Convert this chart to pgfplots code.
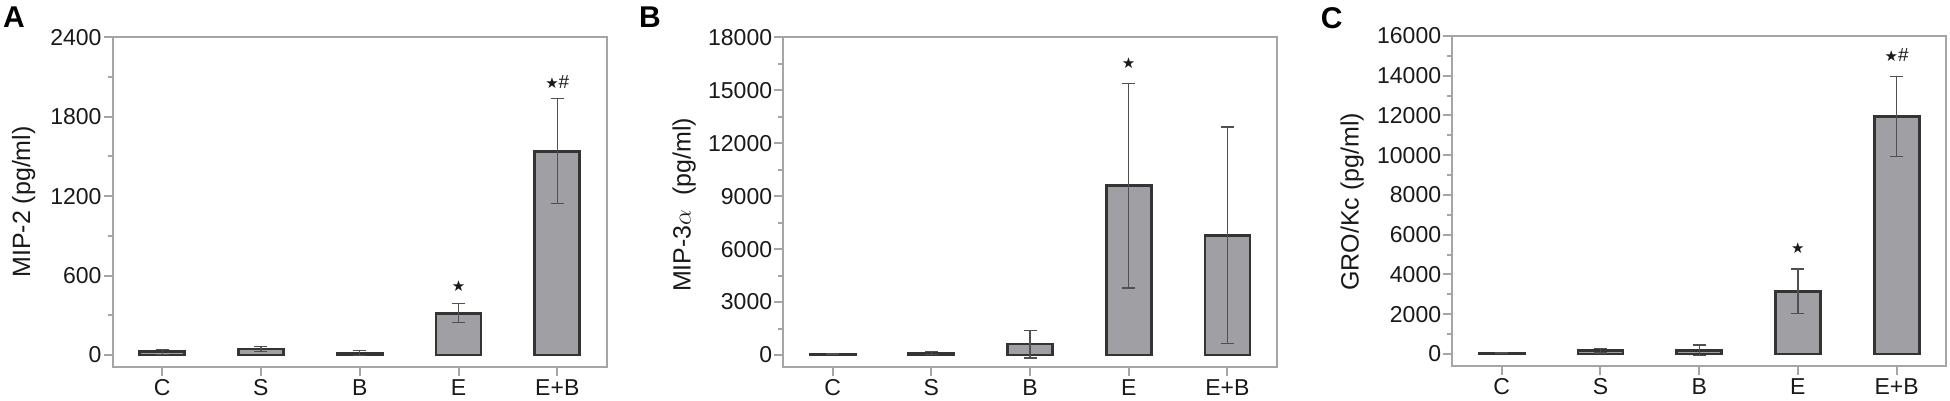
\documentclass[border=0pt]{standalone}
\usepackage{pgfplots}
\usepackage{pgfplotstable}
\pgfplotsset{compat=1.18}
\usepackage{fontspec}
\setmainfont{Liberation Sans}
\newfontfamily\djv{DejaVu Sans}
\definecolor{axgray}{RGB}{165,165,165}
\definecolor{barfill}{RGB}{160,160,164}
\definecolor{baredge}{RGB}{52,52,52}
\definecolor{errc}{RGB}{80,80,80}
\definecolor{txt}{RGB}{25,25,25}

\pgfplotstableread{
x y e
0 25 18
1 45 18
2 15 17
3 315 72
4 1540 395
}\dataA
\pgfplotstableread{
x y e
0 40 30
1 100 80
2 620 790
3 9600 5800
4 6780 6140
}\dataB
\pgfplotstableread{
x y e
0 40 30
1 170 120
2 180 270
3 3150 1125
4 11950 2020
}\dataC

\pgfplotsset{
  panel/.style={
    scale only axis, width=494pt, height=329.4pt,
    anchor=south west,
    ybar, bar width=45pt,
    xmin=-0.5, xmax=4.5,
    xtick={0,1,2,3,4}, xticklabels={C,S,B,E,E+B},
    tick pos=left, tick align=outside,
    axis line style={axgray, line width=2pt},
    tick style={axgray, line width=2pt},
    major tick length=9pt, minor tick length=5pt,
    minor y tick num=1,
    scaled y ticks=false,
    /pgf/number format/assume math mode=true,
    /pgf/number format/fixed, /pgf/number format/1000 sep={},
    ticklabel style={font=\fontsize{23}{27}\selectfont, text=txt},
    yticklabel style={inner sep=2pt},
    label style={font=\fontsize{25}{29}\selectfont, text=txt},
  },
  mybar/.style={fill=barfill, draw=baredge, line width=2.7pt,
    error bars/.cd, y dir=both, y explicit,
    error bar style={errc, line width=1.2pt},
    error mark options={rotate=90, mark size=6.5pt, errc, line width=1.2pt}},
}
\newcommand{\st}{{\djv\fontsize{15}{15}\selectfont ★}}
\newcommand{\sh}{{\fontsize{19}{19}\selectfont\#}}

\begin{document}
\begin{tikzpicture}
\useasboundingbox (0,0) rectangle (1950pt,401pt);

\begin{axis}[panel, at={(112.7pt,34.3pt)},
  ymin=-88, ymax=2400, ytick={0,600,...,2400},
  ylabel={MIP-2 (pg/ml)},
  ylabel style={at={(axis description cs:-0.18,0.5)}, anchor=center}]
\addplot[mybar] table[x=x, y=y, y error=e] {\dataA};
\node[text=txt] at (axis cs:3,521) {\st};
\node[text=txt] at (axis cs:4,2062) {\st\sh};
\end{axis}

\begin{axis}[panel, at={(783.3pt,34.3pt)}, width=493.4pt,
  ymin=-663, ymax=18000, ytick={0,3000,...,18000},
  ylabel={MIP-3$\alpha$\ \ (pg/ml)},
  ylabel style={at={(axis description cs:-0.201,0.491)}, anchor=center}]
\addplot[mybar] table[x=x, y=y, y error=e] {\dataB};
\node[text=txt] at (axis cs:3,16527) {\st};
\end{axis}

\begin{axis}[panel, at={(1452.3pt,35.3pt)}, width=493.7pt, height=329.7pt,
  ymin=-589, ymax=16000, ytick={0,2000,...,16000},
  ylabel={GRO/Kc (pg/ml)},
  ylabel style={at={(axis description cs:-0.203,0.497)}, anchor=center}]
\addplot[mybar] table[x=x, y=y, y error=e] {\dataC};
\node[text=txt] at (axis cs:3,5318) {\st};
\node[text=txt] at (axis cs:4,15044) {\st\sh};
\end{axis}

\node[font=\bfseries\fontsize{30}{30}\selectfont, text=black] at (14pt,383.5pt) {A};
\node[font=\bfseries\fontsize{30}{30}\selectfont, text=black] at (650pt,383.5pt) {B};
\node[font=\bfseries\fontsize{30}{30}\selectfont, text=black] at (1331.7pt,382.7pt) {C};
\end{tikzpicture}
\end{document}
